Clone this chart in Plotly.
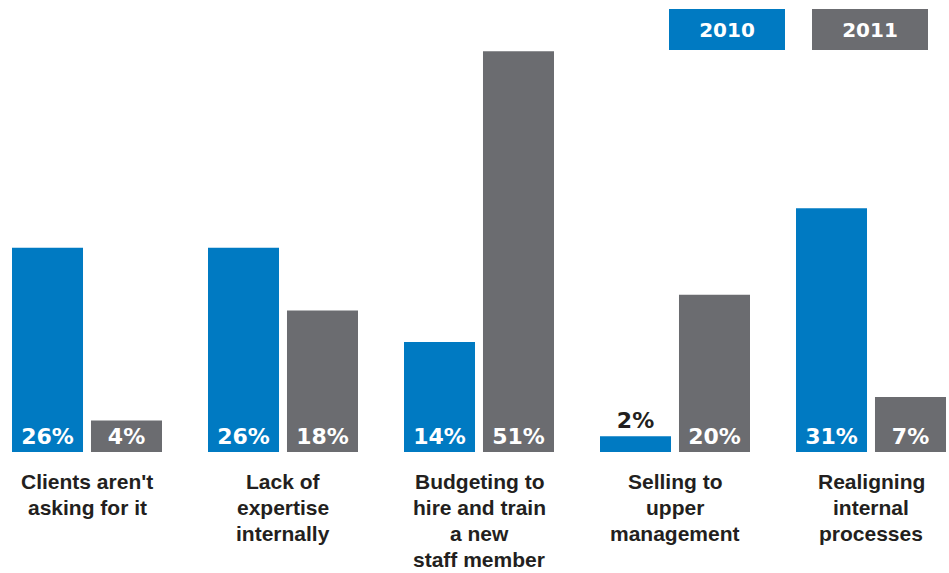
import plotly.graph_objects as go

categories = [
    "Clients aren't<br>asking for it",
    "Lack of<br>expertise<br>internally",
    "Budgeting to<br>hire and train<br>a new<br>staff member",
    "Selling to<br>upper<br>management",
    "Realigning<br>internal<br>processes",
]
values_2010 = [26, 26, 14, 2, 31]
values_2011 = [4, 18, 51, 20, 7]
series_names = ["2010", "2011"]

BLUE = "#007ac2"
GRAY = "#6b6c70"
DARK = "#231f20"
LABEL_FONT = "Liberation Sans"
NUM_FONT = "DejaVu Sans"

x_idx = list(range(len(categories)))


def text_positions(vals, min_inside=4):
    return ["inside" if v >= min_inside else "outside" for v in vals]


fig = go.Figure()
for name, vals, color in [(series_names[0], values_2010, BLUE),
                          (series_names[1], values_2011, GRAY)]:
    fig.add_trace(go.Bar(
        x=x_idx, y=vals, name=name,
        marker=dict(color=color, line=dict(width=0)),
        text=[f"<b>{v}%</b>" for v in vals],
        textposition=text_positions(vals),
        insidetextanchor="start",
        textangle=0,
        constraintext="none",
        insidetextfont=dict(family=NUM_FONT, size=22, color="white"),
        outsidetextfont=dict(family=NUM_FONT, size=22, color=DARK),
        cliponaxis=False,
        showlegend=False,
    ))

# category labels under each group, one annotation per line for tight leading
LINE_STEP = 26
for i, label in enumerate(categories):
    for k, line in enumerate(label.split("<br>")):
        fig.add_annotation(
            x=i, y=0, xref="x", yref="y",
            text=f"<b>{line}</b>", showarrow=False,
            xanchor="center", yanchor="top", yshift=-16 - LINE_STEP * k,
            align="center",
            font=dict(family=LABEL_FONT, size=21, color=DARK),
        )

# legend boxes in the top right corner
W, H = 949, 452
for name, color, cx in [(series_names[0], BLUE, 727), (series_names[1], GRAY, 870)]:
    fig.add_annotation(
        x=cx / W, y=(H - 29.5) / H, xref="paper", yref="paper",
        text=f"<b>{name}</b>", showarrow=False,
        xanchor="center", yanchor="middle",
        width=116, height=41, bgcolor=color, borderpad=0, borderwidth=0,
        font=dict(family=NUM_FONT, size=20, color="white"),
    )

fig.update_layout(
    width=949, height=573,
    margin=dict(l=0, r=0, t=0, b=121),
    paper_bgcolor="white", plot_bgcolor="white",
    barmode="group", bargap=0.194, bargroupgap=0.101,
    xaxis=dict(range=[-87 / 196, (949 - 87) / 196], showticklabels=False,
               showgrid=False, zeroline=False, showline=False, ticks=""),
    yaxis=dict(range=[0, 452 / 7.86], visible=False, showgrid=False,
               zeroline=False),
)

fig.write_html("out.html")
